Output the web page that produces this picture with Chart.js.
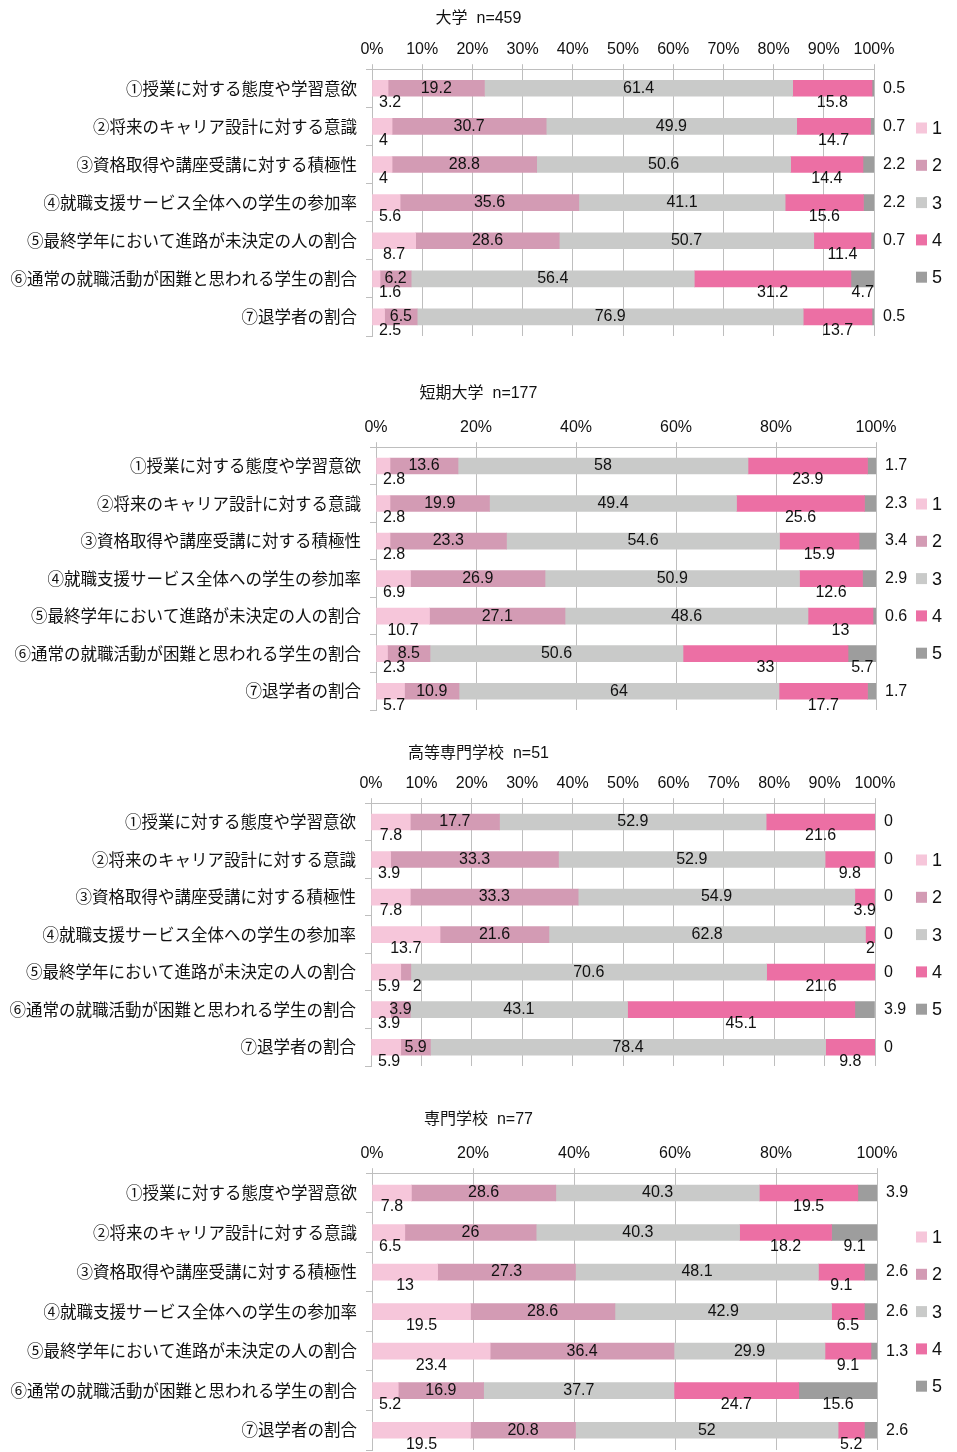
<!DOCTYPE html>
<html>
<head>
<meta charset="utf-8">
<script src="https://cdn.jsdelivr.net/npm/chart.js@4.4.0/dist/chart.umd.min.js"></script>
<style>
  html, body { margin: 0; padding: 0; background: #fff; }
  body { width: 957px; height: 1452px; position: relative; overflow: hidden; }
  .box { position: absolute; left: 0; width: 957px; }
</style>
</head>
<body>
<div class="box" style="top:0;height:355px"><canvas id="c1"></canvas></div>
<div class="box" style="top:370px;height:350px"><canvas id="c2"></canvas></div>
<div class="box" style="top:735px;height:345px"><canvas id="c3"></canvas></div>
<div class="box" style="top:1095px;height:357px"><canvas id="c4"></canvas></div>
<script>
const items = [
  "①授業に対する態度や学習意欲",
  "②将来のキャリア設計に対する意識",
  "③資格取得や講座受講に対する積極性",
  "④就職支援サービス全体への学生の参加率",
  "⑤最終学年において進路が未決定の人の割合",
  "⑥通常の就職活動が困難と思われる学生の割合",
  "⑦退学者の割合"
];
const seriesNames = ["1", "2", "3", "4", "5"];
const colors = ["#F6C6DA", "#D39BB4", "#C9CAC9", "#EC6FA4", "#9D9D9D"];

// 各系列 (1〜5) の値、項目①〜⑦の順
const daigaku = [
  [3.2, 4, 4, 5.6, 8.7, 1.6, 2.5],
  [19.2, 30.7, 28.8, 35.6, 28.6, 6.2, 6.5],
  [61.4, 49.9, 50.6, 41.1, 50.7, 56.4, 76.9],
  [15.8, 14.7, 14.4, 15.6, 11.4, 31.2, 13.7],
  [0.5, 0.7, 2.2, 2.2, 0.7, 4.7, 0.5]
];
const tandai = [
  [2.8, 2.8, 2.8, 6.9, 10.7, 2.3, 5.7],
  [13.6, 19.9, 23.3, 26.9, 27.1, 8.5, 10.9],
  [58, 49.4, 54.6, 50.9, 48.6, 50.6, 64],
  [23.9, 25.6, 15.9, 12.6, 13, 33, 17.7],
  [1.7, 2.3, 3.4, 2.9, 0.6, 5.7, 1.7]
];
const kosen = [
  [7.8, 3.9, 7.8, 13.7, 5.9, 3.9, 5.9],
  [17.7, 33.3, 33.3, 21.6, 2, 3.9, 5.9],
  [52.9, 52.9, 54.9, 62.8, 70.6, 43.1, 78.4],
  [21.6, 9.8, 3.9, 2, 21.6, 45.1, 9.8],
  [0, 0, 0, 0, 0, 3.9, 0]
];
const senmon = [
  [7.8, 6.5, 13, 19.5, 23.4, 5.2, 19.5],
  [28.6, 26, 27.3, 28.6, 36.4, 16.9, 20.8],
  [40.3, 40.3, 48.1, 42.9, 29.9, 37.7, 52],
  [19.5, 18.2, 9.1, 6.5, 9.1, 24.7, 5.2],
  [3.9, 9.1, 2.6, 2.6, 1.3, 15.6, 2.6]
];

const numFont = '"Liberation Sans", Arial, sans-serif';
const jpFont = '"Noto Sans CJK JP", sans-serif';

// データラベル（Excel風の配置）
const valueLabels = {
  id: "valueLabels",
  afterDatasetsDraw(chart) {
    const ctx = chart.ctx;
    const area = chart.chartArea;
    ctx.save();
    ctx.font = "16px " + numFont;
    ctx.fillStyle = "#111";
    ctx.textAlign = "center";
    ctx.textBaseline = "middle";
    chart.data.datasets.forEach((ds, i) => {
      const meta = chart.getDatasetMeta(i);
      meta.data.forEach((bar, j) => {
        const v = ds.data[j];
        const txt = String(v);
        const w = ctx.measureText(txt).width;
        const mid = (bar.x + bar.base) / 2;
        const below = bar.y + 14;
        let x = mid, y = bar.y;
        if (i === 0) {
          x = Math.max(mid, area.left + w / 2 + 7);
          y = below;
        } else if (i === 1) {
          if (v < 3) { x = bar.x + w / 2 + 2; y = below; }
        } else if (i === 3) {
          y = below;
        } else if (i === 4) {
          if (v >= 4.5) {
            x = Math.min(mid, area.right - w / 2);
            y = below;
          } else {
            x = area.right + 9 + w / 2;
          }
        }
        ctx.fillText(txt, x, y);
      });
    });
    ctx.restore();
  }
};

// 右側の凡例
const sideLegend = {
  id: "sideLegend",
  afterDraw(chart) {
    const ctx = chart.ctx;
    const area = chart.chartArea;
    const cy = (area.top + area.bottom) / 2;
    ctx.save();
    ctx.font = "18px " + numFont;
    ctx.textBaseline = "middle";
    ctx.textAlign = "left";
    chart.data.datasets.forEach((ds, i) => {
      const y = cy + (i - 2) * 37.3;
      ctx.fillStyle = ds.backgroundColor;
      ctx.fillRect(916, y - 5.5, 11, 11);
      ctx.fillStyle = "#111";
      ctx.fillText(ds.label, 932, y + 1);
    });
    ctx.restore();
  }
};

function drawChart(id, title, values, step, lay) {
  const ctx = document.getElementById(id).getContext("2d");
  return new Chart(ctx, {
    type: "bar",
    data: {
      labels: items,
      datasets: values.map((d, i) => ({
        label: seriesNames[i],
        data: d,
        backgroundColor: colors[i],
        borderWidth: 0,
        barThickness: 16
      }))
    },
    options: {
      indexAxis: "y",
      responsive: true,
      maintainAspectRatio: false,
      animation: false,
      layout: { padding: { top: 0, left: 0, right: 0, bottom: lay.bottom } },
      scales: {
        x: {
          position: "top",
          stacked: true,
          min: 0,
          max: 100,
          ticks: {
            stepSize: step,
            padding: 5,
            color: "#111",
            font: { family: numFont, size: 16 },
            callback: (v) => v + "%"
          },
          grid: { color: "#BEBEBE", tickLength: 5, lineWidth: 1 },
          border: { color: "#BEBEBE" },
          afterFit: (s) => { s.height = lay.axisH; }
        },
        y: {
          stacked: true,
          ticks: {
            padding: 9,
            color: "#111",
            font: { family: jpFont, size: 16.5 }
          },
          grid: { drawOnChartArea: false, tickLength: 6, color: "#BEBEBE", offset: true },
          border: { color: "#BEBEBE" },
          afterFit: (s) => {
            s.width = lay.left;
            s.paddingTop = 0;
            s.paddingBottom = 0;
          }
        },
        // 右側の余白（値ラベル5と凡例のための空き）
        yRight: {
          type: "category",
          position: "right",
          labels: items,
          ticks: { display: false },
          grid: { display: false },
          border: { display: false },
          afterFit: (s) => {
            s.width = 957 - lay.right;
            s.paddingTop = 0;
            s.paddingBottom = 0;
          }
        }
      },
      plugins: {
        legend: { display: false },
        tooltip: { enabled: false },
        title: {
          display: true,
          text: title,
          color: "#111",
          font: { family: numFont + ', "Noto Sans CJK JP"', size: 16, weight: "normal", lineHeight: 1.2 },
          padding: { top: lay.titleTop, bottom: 0 }
        }
      }
    },
    plugins: [valueLabels, sideLegend]
  });
}

drawChart("c1", "大学  n=459", daigaku, 10, { titleTop: 9, axisH: 41, bottom: 19, left: 372, right: 874 });
drawChart("c2", "短期大学  n=177", tandai, 20, { titleTop: 14, axisH: 44, bottom: 10, left: 376, right: 876 });
drawChart("c3", "高等専門学校  n=51", kosen, 10, { titleTop: 9, axisH: 40, bottom: 14, left: 371, right: 875 });
drawChart("c4", "専門学校  n=77", senmon, 20, { titleTop: 15, axisH: 44, bottom: 2, left: 372, right: 877 });
</script>
</body>
</html>
